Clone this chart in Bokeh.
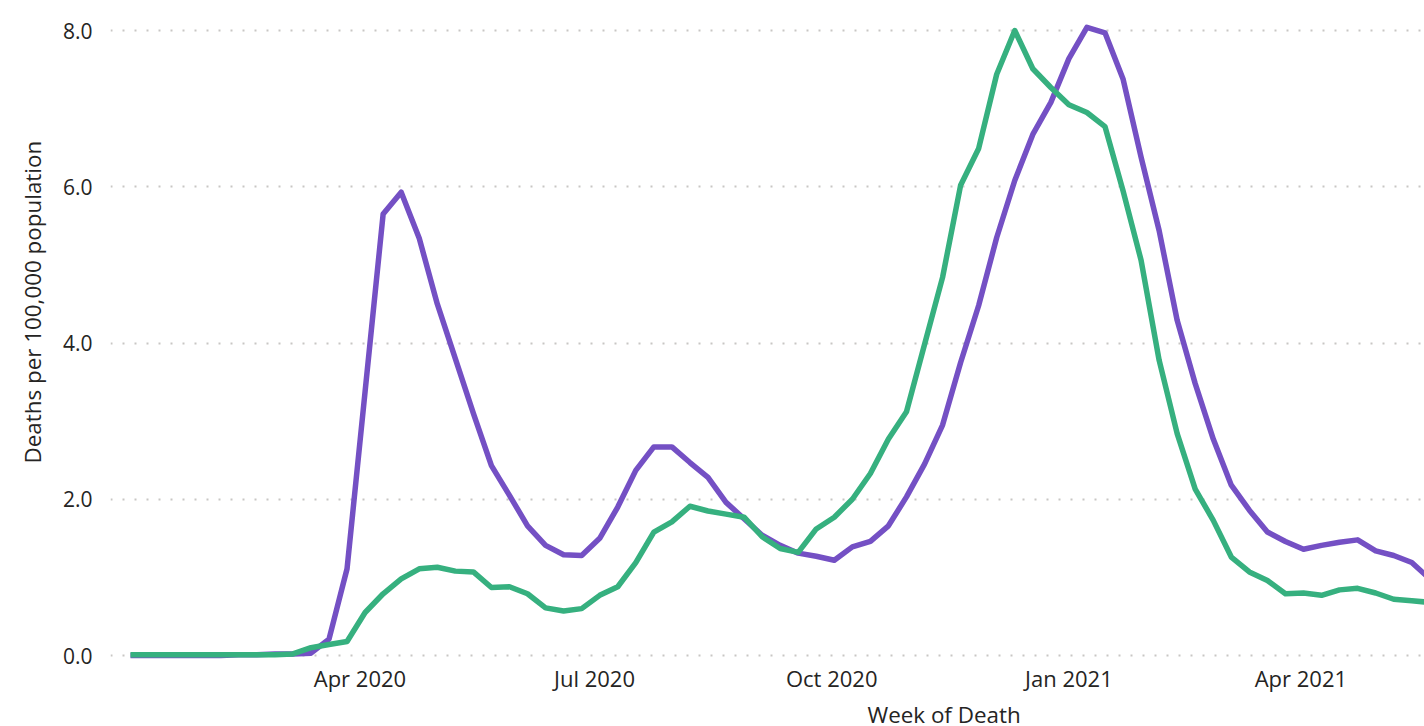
import pandas as pd
from bokeh.plotting import figure
from bokeh.models import FixedTicker, DatetimeTickFormatter, NumeralTickFormatter, Range1d, Title
from bokeh.embed import file_html
from bokeh.resources import INLINE

# ---- data (weekly, week ending Friday) ----
first_week = "2020-01-03"
purple_values = [
    0.0, 0.0, 0.0, 0.0, 0.0, 0.0, 0.01, 0.01, 0.02, 0.02,
    0.03, 0.21, 1.11, 3.38, 5.65, 5.93, 5.34, 4.50, 3.80, 3.10,
    2.43, 2.05, 1.66, 1.41, 1.29, 1.28, 1.50, 1.90, 2.37, 2.67,
    2.67, 2.47, 2.28, 1.96, 1.75, 1.54, 1.41, 1.31, 1.27, 1.22,
    1.39, 1.46, 1.66, 2.03, 2.45, 2.95, 3.75, 4.48, 5.35, 6.08,
    6.67, 7.08, 7.64, 8.04, 7.97, 7.38, 6.38, 5.44, 4.29, 3.48,
    2.77, 2.18, 1.86, 1.58, 1.46, 1.36, 1.41, 1.45, 1.48, 1.34,
    1.28, 1.19, 0.98,
]
green_values = [
    0.01, 0.01, 0.01, 0.01, 0.01, 0.01, 0.01, 0.01, 0.01, 0.02,
    0.10, 0.14, 0.18, 0.55, 0.79, 0.98, 1.11, 1.13, 1.08, 1.07,
    0.87, 0.88, 0.79, 0.61, 0.57, 0.60, 0.77, 0.88, 1.19, 1.58,
    1.71, 1.91, 1.85, 1.81, 1.77, 1.52, 1.37, 1.32, 1.62, 1.77,
    2.00, 2.33, 2.77, 3.12, 3.98, 4.84, 6.02, 6.49, 7.44, 8.00,
    7.51, 7.27, 7.05, 6.95, 6.77, 5.95, 5.06, 3.78, 2.84, 2.13,
    1.73, 1.26, 1.07, 0.96, 0.79, 0.80, 0.77, 0.84, 0.86, 0.80,
    0.72, 0.70, 0.68,
]
y_ticks = [0, 2, 4, 6, 8]
x_tick_dates = ["2020-04-01", "2020-07-01", "2020-10-01", "2021-01-01", "2021-04-01"]
x_title = "Week of Death"
y_title = "Deaths per 100,000 population"

weeks = pd.date_range(first_week, periods=len(purple_values), freq="7D")

PURPLE = "#7450C4"
GREEN = "#36B07F"
TEXT = "#252423"
FONT = "Open Sans"

t0 = pd.Timestamp(first_week)
px_per_day = 2.578
def ms(ts):
    return ts.value / 1e6
def date_at(px):
    return t0 + pd.Timedelta(days=(px - 130) / px_per_day)

FRAME_L, FRAME_R, FRAME_T, FRAME_B = 110, 1424, 18, 660
y_per_px = 1 / 78.125

p = figure(
    x_axis_type="datetime",
    frame_width=FRAME_R - FRAME_L, frame_height=FRAME_B - FRAME_T,
    min_border_left=FRAME_L, min_border_right=0, min_border_top=FRAME_T, min_border_bottom=726 - FRAME_B,
    output_backend="svg", toolbar_location=None,
    x_range=Range1d(ms(date_at(FRAME_L)), ms(date_at(FRAME_R))),
    y_range=Range1d(-(FRAME_B - 655) * y_per_px, (655 - FRAME_T) * y_per_px),
)
p.outline_line_color = None
p.background_fill_color = "white"
p.border_fill_color = "white"

p.line(weeks, purple_values, line_color=PURPLE, line_width=5.5, line_join="round")
p.line(weeks, green_values, line_color=GREEN, line_width=5.5, line_join="round")

# y axis
p.yaxis.ticker = FixedTicker(ticks=y_ticks)
p.yaxis.formatter = NumeralTickFormatter(format="0.0")
p.yaxis.axis_line_color = None
p.yaxis.major_tick_line_color = None
p.yaxis.minor_tick_line_color = None
p.yaxis.major_tick_out = 0
p.yaxis.major_label_standoff = 18
p.yaxis.major_label_text_font = FONT
p.yaxis.major_label_text_font_size = "21px"
p.yaxis.major_label_text_color = TEXT

# x axis
p.xaxis.ticker = FixedTicker(ticks=[ms(pd.Timestamp(d)) for d in x_tick_dates])
fmt = "%b %Y"
p.xaxis.formatter = DatetimeTickFormatter(days=fmt, months=fmt, years=fmt, hours=fmt, minutes=fmt)
p.xaxis.axis_line_color = None
p.xaxis.major_tick_line_color = None
p.xaxis.minor_tick_line_color = None
p.xaxis.major_tick_out = 0
p.xaxis.major_label_standoff = 2
p.xaxis.major_label_text_font = FONT
p.xaxis.major_label_text_font_size = "22px"
p.xaxis.major_label_text_color = TEXT

# grid
p.xgrid.grid_line_color = None
p.ygrid.ticker = FixedTicker(ticks=y_ticks)
p.ygrid.grid_line_color = "#c8c6c4"
p.ygrid.grid_line_width = 2
p.ygrid.grid_line_dash = "2 10"

# axis titles, placed off-centre like the reference
p.add_layout(Title(
    text=x_title, align="left", offset=867 - FRAME_L, standoff=2,
    text_font=FONT, text_font_size="22.4px", text_font_style="normal", text_color=TEXT,
), "below")
p.add_layout(Title(
    text=y_title, align="left", offset=FRAME_B - 463, standoff=24,
    text_font=FONT, text_font_size="22.4px", text_font_style="normal", text_color=TEXT,
), "left")

open("out.html", "w").write(file_html(p, INLINE))
